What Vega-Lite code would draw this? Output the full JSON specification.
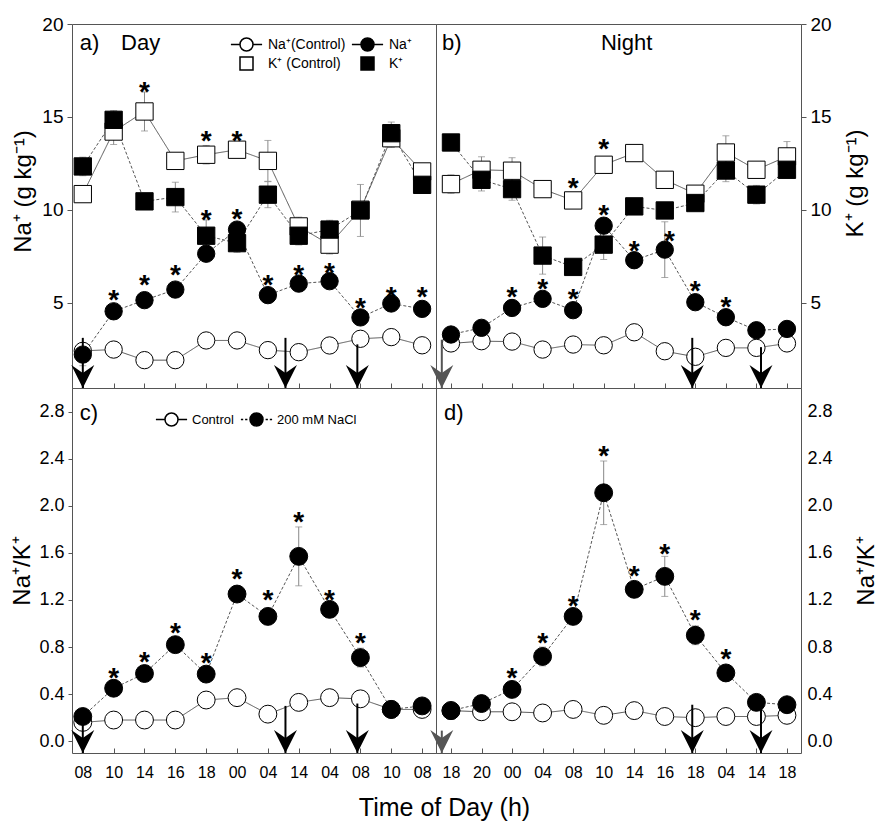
{
"$schema": "https://vega.github.io/schema/vega-lite/v6.json",
"background": "white",
"padding": {"left": 10, "right": 2, "top": 14, "bottom": 5},
"title": {"text": "Time of Day (h)", "orient": "bottom", "anchor": "middle", "fontSize": 25, "fontWeight": "normal", "font": "Liberation Sans", "color": "black", "offset": 15},
"columns": 2,
"spacing": 0,
"bounds": "flush",
"config": {
  "view": {"stroke": "#555", "strokeWidth": 1},
  "axis": {"labelFont": "Liberation Sans", "titleFont": "Liberation Sans", "grid": false, "domain": false, "labelColor": "black", "titleColor": "black", "tickColor": "#555", "titleFontWeight": "normal"},
  "legend": {"labelFont": "Liberation Sans", "labelColor": "black"}
},
"datasets": {
  "a": [
    {"i":0,"t":"08","ion":"K","trt":"control","v":10.84,"e":0.3},
    {"i":1,"t":"10","ion":"K","trt":"control","v":14.21,"e":0.7},
    {"i":2,"t":"14","ion":"K","trt":"control","v":15.29,"e":1.05},
    {"i":3,"t":"16","ion":"K","trt":"control","v":12.63,"e":0.3},
    {"i":4,"t":"18","ion":"K","trt":"control","v":12.96,"e":0.5},
    {"i":5,"t":"00","ion":"K","trt":"control","v":13.23,"e":0.3},
    {"i":6,"t":"04","ion":"K","trt":"control","v":12.63,"e":1.1},
    {"i":7,"t":"14","ion":"K","trt":"control","v":9.1,"e":0.5},
    {"i":8,"t":"04","ion":"K","trt":"control","v":8.12,"e":0.5},
    {"i":9,"t":"08","ion":"K","trt":"control","v":10.0,"e":0.3},
    {"i":10,"t":"10","ion":"K","trt":"control","v":13.85,"e":0.5},
    {"i":11,"t":"08","ion":"K","trt":"control","v":12.06,"e":0.3},
    {"i":0,"t":"08","ion":"Na","trt":"control","v":2.4,"e":0.3},
    {"i":1,"t":"10","ion":"Na","trt":"control","v":2.47,"e":0.4},
    {"i":2,"t":"14","ion":"Na","trt":"control","v":1.9,"e":0.3},
    {"i":3,"t":"16","ion":"Na","trt":"control","v":1.9,"e":0.2},
    {"i":4,"t":"18","ion":"Na","trt":"control","v":2.96,"e":0.2},
    {"i":5,"t":"00","ion":"Na","trt":"control","v":2.96,"e":0.2},
    {"i":6,"t":"04","ion":"Na","trt":"control","v":2.44,"e":0.3},
    {"i":7,"t":"14","ion":"Na","trt":"control","v":2.33,"e":0.4},
    {"i":8,"t":"04","ion":"Na","trt":"control","v":2.69,"e":0.4},
    {"i":9,"t":"08","ion":"Na","trt":"control","v":3.05,"e":0.3},
    {"i":10,"t":"10","ion":"Na","trt":"control","v":3.14,"e":0.2},
    {"i":11,"t":"08","ion":"Na","trt":"control","v":2.7,"e":0.2},
    {"i":0,"t":"08","ion":"K","trt":"salt","v":12.33,"e":0.5},
    {"i":1,"t":"10","ion":"K","trt":"salt","v":14.84,"e":0.5},
    {"i":2,"t":"14","ion":"K","trt":"salt","v":10.45,"e":0.3},
    {"i":3,"t":"16","ion":"K","trt":"salt","v":10.68,"e":0.8},
    {"i":4,"t":"18","ion":"K","trt":"salt","v":8.6,"e":0.85},
    {"i":5,"t":"00","ion":"K","trt":"salt","v":8.2,"e":0.5},
    {"i":6,"t":"04","ion":"K","trt":"salt","v":10.81,"e":0.7},
    {"i":7,"t":"14","ion":"K","trt":"salt","v":8.6,"e":0.5},
    {"i":8,"t":"04","ion":"K","trt":"salt","v":8.93,"e":0.5},
    {"i":9,"t":"08","ion":"K","trt":"salt","v":9.96,"e":1.4},
    {"i":10,"t":"10","ion":"K","trt":"salt","v":14.12,"e":0.6},
    {"i":11,"t":"08","ion":"K","trt":"salt","v":11.34,"e":0.3},
    {"i":0,"t":"08","ion":"Na","trt":"salt","v":2.2,"e":0.6},
    {"i":1,"t":"10","ion":"Na","trt":"salt","v":4.53,"e":0.2},
    {"i":2,"t":"14","ion":"Na","trt":"salt","v":5.13,"e":0.2},
    {"i":3,"t":"16","ion":"Na","trt":"salt","v":5.7,"e":0.2},
    {"i":4,"t":"18","ion":"Na","trt":"salt","v":7.63,"e":0.4},
    {"i":5,"t":"00","ion":"Na","trt":"salt","v":8.93,"e":0.3},
    {"i":6,"t":"04","ion":"Na","trt":"salt","v":5.4,"e":0.2},
    {"i":7,"t":"14","ion":"Na","trt":"salt","v":6.02,"e":0.3},
    {"i":8,"t":"04","ion":"Na","trt":"salt","v":6.15,"e":0.2},
    {"i":9,"t":"08","ion":"Na","trt":"salt","v":4.2,"e":0.2},
    {"i":10,"t":"10","ion":"Na","trt":"salt","v":4.95,"e":0.2},
    {"i":11,"t":"08","ion":"Na","trt":"salt","v":4.66,"e":0.2}
  ],
  "b": [
    {"i":0,"t":"18","ion":"K","trt":"control","v":11.38,"e":0.5},
    {"i":1,"t":"20","ion":"K","trt":"control","v":12.15,"e":0.7},
    {"i":2,"t":"00","ion":"K","trt":"control","v":12.1,"e":0.7},
    {"i":3,"t":"04","ion":"K","trt":"control","v":11.11,"e":0.3},
    {"i":4,"t":"08","ion":"K","trt":"control","v":10.5,"e":0.2},
    {"i":5,"t":"10","ion":"K","trt":"control","v":12.42,"e":0.4},
    {"i":6,"t":"14","ion":"K","trt":"control","v":13.05,"e":0.2},
    {"i":7,"t":"16","ion":"K","trt":"control","v":11.61,"e":0.3},
    {"i":8,"t":"18","ion":"K","trt":"control","v":10.86,"e":0.3},
    {"i":9,"t":"04","ion":"K","trt":"control","v":13.08,"e":0.9},
    {"i":10,"t":"14","ion":"K","trt":"control","v":12.15,"e":0.3},
    {"i":11,"t":"18","ion":"K","trt":"control","v":12.87,"e":0.8},
    {"i":0,"t":"18","ion":"Na","trt":"control","v":2.8,"e":0.3},
    {"i":1,"t":"20","ion":"Na","trt":"control","v":2.92,"e":0.3},
    {"i":2,"t":"00","ion":"Na","trt":"control","v":2.9,"e":0.3},
    {"i":3,"t":"04","ion":"Na","trt":"control","v":2.47,"e":0.3},
    {"i":4,"t":"08","ion":"Na","trt":"control","v":2.74,"e":0.3},
    {"i":5,"t":"10","ion":"Na","trt":"control","v":2.7,"e":0.2},
    {"i":6,"t":"14","ion":"Na","trt":"control","v":3.4,"e":0.2},
    {"i":7,"t":"16","ion":"Na","trt":"control","v":2.38,"e":0.2},
    {"i":8,"t":"18","ion":"Na","trt":"control","v":2.08,"e":0.3},
    {"i":9,"t":"04","ion":"Na","trt":"control","v":2.56,"e":0.3},
    {"i":10,"t":"14","ion":"Na","trt":"control","v":2.56,"e":0.3},
    {"i":11,"t":"18","ion":"Na","trt":"control","v":2.8,"e":0.3},
    {"i":0,"t":"18","ion":"K","trt":"salt","v":13.62,"e":0.3},
    {"i":1,"t":"20","ion":"K","trt":"salt","v":11.61,"e":0.6},
    {"i":2,"t":"00","ion":"K","trt":"salt","v":11.11,"e":0.6},
    {"i":3,"t":"04","ion":"K","trt":"salt","v":7.53,"e":1.0},
    {"i":4,"t":"08","ion":"K","trt":"salt","v":6.92,"e":0.2},
    {"i":5,"t":"10","ion":"K","trt":"salt","v":8.12,"e":0.8},
    {"i":6,"t":"14","ion":"K","trt":"salt","v":10.18,"e":0.3},
    {"i":7,"t":"16","ion":"K","trt":"salt","v":9.96,"e":0.4},
    {"i":8,"t":"18","ion":"K","trt":"salt","v":10.36,"e":0.3},
    {"i":9,"t":"04","ion":"K","trt":"salt","v":12.11,"e":0.6},
    {"i":10,"t":"14","ion":"K","trt":"salt","v":10.81,"e":0.5},
    {"i":11,"t":"18","ion":"K","trt":"salt","v":12.15,"e":0.3},
    {"i":0,"t":"18","ion":"Na","trt":"salt","v":3.28,"e":0.2},
    {"i":1,"t":"20","ion":"Na","trt":"salt","v":3.64,"e":0.2},
    {"i":2,"t":"00","ion":"Na","trt":"salt","v":4.71,"e":0.2},
    {"i":3,"t":"04","ion":"Na","trt":"salt","v":5.2,"e":0.2},
    {"i":4,"t":"08","ion":"Na","trt":"salt","v":4.59,"e":0.2},
    {"i":5,"t":"10","ion":"Na","trt":"salt","v":9.14,"e":0.2},
    {"i":6,"t":"14","ion":"Na","trt":"salt","v":7.28,"e":0.2},
    {"i":7,"t":"16","ion":"Na","trt":"salt","v":7.85,"e":1.5},
    {"i":8,"t":"18","ion":"Na","trt":"salt","v":5.02,"e":0.2},
    {"i":9,"t":"04","ion":"Na","trt":"salt","v":4.21,"e":0.2},
    {"i":10,"t":"14","ion":"Na","trt":"salt","v":3.51,"e":0.2},
    {"i":11,"t":"18","ion":"Na","trt":"salt","v":3.58,"e":0.2}
  ],
  "c": [
    {"i":0,"t":"08","trt":"control","v":0.16,"e":0.04},
    {"i":1,"t":"10","trt":"control","v":0.18,"e":0.04},
    {"i":2,"t":"14","trt":"control","v":0.18,"e":0.04},
    {"i":3,"t":"16","trt":"control","v":0.18,"e":0.04},
    {"i":4,"t":"18","trt":"control","v":0.35,"e":0.04},
    {"i":5,"t":"00","trt":"control","v":0.37,"e":0.04},
    {"i":6,"t":"04","trt":"control","v":0.23,"e":0.05},
    {"i":7,"t":"14","trt":"control","v":0.33,"e":0.04},
    {"i":8,"t":"04","trt":"control","v":0.37,"e":0.05},
    {"i":9,"t":"08","trt":"control","v":0.36,"e":0.05},
    {"i":10,"t":"10","trt":"control","v":0.27,"e":0.03},
    {"i":11,"t":"08","trt":"control","v":0.27,"e":0.03},
    {"i":0,"t":"08","trt":"salt","v":0.21,"e":0.05},
    {"i":1,"t":"10","trt":"salt","v":0.45,"e":0.03},
    {"i":2,"t":"14","trt":"salt","v":0.575,"e":0.03},
    {"i":3,"t":"16","trt":"salt","v":0.82,"e":0.04},
    {"i":4,"t":"18","trt":"salt","v":0.57,"e":0.04},
    {"i":5,"t":"00","trt":"salt","v":1.25,"e":0.05},
    {"i":6,"t":"04","trt":"salt","v":1.06,"e":0.07},
    {"i":7,"t":"14","trt":"salt","v":1.57,"e":0.25},
    {"i":8,"t":"04","trt":"salt","v":1.12,"e":0.05},
    {"i":9,"t":"08","trt":"salt","v":0.71,"e":0.08},
    {"i":10,"t":"10","trt":"salt","v":0.27,"e":0.03},
    {"i":11,"t":"08","trt":"salt","v":0.3,"e":0.03}
  ],
  "d": [
    {"i":0,"t":"18","trt":"control","v":0.26,"e":0.04},
    {"i":1,"t":"20","trt":"control","v":0.25,"e":0.04},
    {"i":2,"t":"00","trt":"control","v":0.25,"e":0.04},
    {"i":3,"t":"04","trt":"control","v":0.24,"e":0.04},
    {"i":4,"t":"08","trt":"control","v":0.27,"e":0.04},
    {"i":5,"t":"10","trt":"control","v":0.22,"e":0.03},
    {"i":6,"t":"14","trt":"control","v":0.26,"e":0.03},
    {"i":7,"t":"16","trt":"control","v":0.21,"e":0.04},
    {"i":8,"t":"18","trt":"control","v":0.2,"e":0.04},
    {"i":9,"t":"04","trt":"control","v":0.21,"e":0.04},
    {"i":10,"t":"14","trt":"control","v":0.21,"e":0.03},
    {"i":11,"t":"18","trt":"control","v":0.22,"e":0.04},
    {"i":0,"t":"18","trt":"salt","v":0.26,"e":0.03},
    {"i":1,"t":"20","trt":"salt","v":0.32,"e":0.03},
    {"i":2,"t":"00","trt":"salt","v":0.44,"e":0.03},
    {"i":3,"t":"04","trt":"salt","v":0.72,"e":0.08},
    {"i":4,"t":"08","trt":"salt","v":1.06,"e":0.05},
    {"i":5,"t":"10","trt":"salt","v":2.11,"e":0.27},
    {"i":6,"t":"14","trt":"salt","v":1.29,"e":0.05},
    {"i":7,"t":"16","trt":"salt","v":1.4,"e":0.17},
    {"i":8,"t":"18","trt":"salt","v":0.9,"e":0.08},
    {"i":9,"t":"04","trt":"salt","v":0.58,"e":0.04},
    {"i":10,"t":"14","trt":"salt","v":0.33,"e":0.03},
    {"i":11,"t":"18","trt":"salt","v":0.31,"e":0.03}
  ],
  "sa": [{"i":1,"v":5.52},{"i":2,"v":6.33},{"i":3,"v":6.87},{"i":4,"v":9.8},{"i":4,"v":14.1},{"i":5,"v":14.1},{"i":5,"v":9.9},{"i":6,"v":6.3},{"i":7,"v":6.88},{"i":8,"v":6.97},{"i":9,"v":5.07},{"i":10,"v":5.7},{"i":11,"v":5.7},{"i":2,"v":16.72}],
  "sb": [{"i":2,"v":5.7},{"i":3,"v":6.09},{"i":4,"v":5.55},{"i":4,"v":11.52},{"i":5,"v":13.67},{"i":5,"v":10.09},{"i":6,"v":8.17},{"i":7.15,"v":8.69},{"i":8,"v":6.02},{"i":9,"v":5.13}],
  "sc": [{"i":1,"v":0.6},{"i":2,"v":0.73},{"i":3,"v":0.98},{"i":4,"v":0.72},{"i":5,"v":1.44},{"i":6,"v":1.26},{"i":7,"v":1.92},{"i":8,"v":1.26},{"i":9,"v":0.89}],
  "sd": [{"i":2,"v":0.6},{"i":3,"v":0.89},{"i":4,"v":1.21},{"i":5,"v":2.48},{"i":6,"v":1.46},{"i":7,"v":1.65},{"i":8,"v":1.09},{"i":9,"v":0.76}],
  "shL": [{"i":3.88,"i2":6.31},{"i":7.83,"i2":8.22}],
  "shR": [{"i":-0.29,"i2":3.47},{"i":7.89,"i2":9.17},{"i":10.83,"i2":11.23}],
  "ra": [{"i":0,"v":3.1},{"i":6.57,"v":3.1},{"i":8.9,"v":2.75}],
  "rb": [{"i":-0.3,"v":3.0},{"i":7.9,"v":3.1},{"i":10.15,"v":2.6}],
  "rc": [{"i":0,"v":0.25},{"i":6.57,"v":0.3},{"i":8.9,"v":0.32}],
  "rd": [{"i":-0.3,"v":0.09},{"i":7.9,"v":0.31},{"i":10.15,"v":0.29}]
},
"concat": [
{
  "width": 364, "height": 364,
  "data": {"name": "a"},
  "encoding": {
    "x": {"field": "i", "type": "quantitative", "scale": {"domain": [-0.35, 11.45], "nice": false, "zero": false},
          "axis": {"values": [0,1,2,3,4,5,6,7,8,9,10,11], "labels": false, "tickSize": -5, "title": null}},
    "y": {"field": "v", "type": "quantitative", "scale": {"domain": [0.4, 20], "nice": false, "zero": false},
          "axis": {"orient": "left", "values": [5,10,15,20], "title": "Na⁺ (g kg⁻¹)", "titleY": 167, "titleFontSize": 24, "titlePadding": 6, "labelFontSize": 19, "labelPadding": 4, "tickSize": 5}}
  },
  "layer": [
    {"data": {"name": "shL"}, "mark": {"type": "rect", "color": "#e4e4e4"}, "encoding": {"x2": {"field": "i2"}, "y": {"datum": 0.4}, "y2": {"datum": 20}}},
    {"mark": {"type": "errorbar", "color": "#888", "ticks": {"size": 7}}, "encoding": {"yError": {"field": "e"}}},
    {"mark": {"type": "line", "color": "#555", "strokeWidth": 1}, "encoding": {"detail": {"field": "ion"}, "strokeDash": {"field": "trt", "type": "nominal", "scale": {"domain": ["control","salt"], "range": [[1,0],[3,2]]}, "legend": null}}},
    {"mark": {"type": "point", "filled": true, "stroke": "black", "strokeWidth": 1, "size": 300, "opacity": 1},
     "encoding": {"shape": {"field": "ion", "type": "nominal", "scale": {"domain": ["Na","K"], "range": ["circle","square"]}, "legend": null},
                  "fill": {"field": "trt", "type": "nominal", "scale": {"domain": ["control","salt"], "range": ["white","black"]}, "legend": null}}},
    {"data": {"name": "ra"}, "mark": {"type": "rule", "color": "black", "strokeWidth": 2}, "encoding": {"y2": {"datum": 0.4}}},
    {"data": {"name": "ra"}, "mark": {"type": "point", "shape": "M0,0L-1,-2L0,-1.3L1,-2Z", "size": 529, "filled": true, "opacity": 1, "color": "black"}, "encoding": {"y": {"datum": 0.4}}},
    {"data": {"name": "sa"}, "mark": {"type": "text", "text": "*", "font": "Liberation Sans", "fontSize": 28, "fontWeight": "bold", "baseline": "alphabetic", "dy": 16, "color": "black"}},
    {"mark": {"type": "text", "font": "Liberation Sans", "fontSize": 22, "align": "left", "baseline": "middle", "color": "black"}, "encoding": {"x": {"datum": -0.1}, "y": {"datum": 18.98}, "text": {"condition": {"test": "datum.i == 0 && datum.ion == 'K' && datum.trt == 'control'", "value": "a)"}, "value": ""}}},
    {"mark": {"type": "text", "font": "Liberation Sans", "fontSize": 22, "align": "left", "baseline": "middle", "color": "black"}, "encoding": {"x": {"datum": 1.24}, "y": {"datum": 18.98}, "text": {"condition": {"test": "datum.i == 0 && datum.ion == 'K' && datum.trt == 'control'", "value": "Day"}, "value": ""}}},
    {"data": {"values": []}, "mark": {"type": "point", "filled": true, "stroke": "black", "strokeWidth": 1, "opacity": 1},
     "encoding": {
       "shape": {"field": "s", "type": "nominal", "scale": {"domain": ["Na⁺(Control)","Na⁺","K⁺ (Control)","K⁺"], "range": ["M-2.4,0H-1M1,0H2.4M-1,0A1,1,0,1,0,1,0A1,1,0,1,0,-1,0Z","M-2.4,0H-1M1,0H2.4M-1,0A1,1,0,1,0,1,0A1,1,0,1,0,-1,0Z","M-1,-1H1V1H-1Z","M-1,-1H1V1H-1Z"]},
                 "legend": {"title": null, "orient": "none", "legendX": 167, "legendY": 13, "direction": "horizontal", "columns": 2, "labelFontSize": 14, "symbolSize": 169, "labelOffset": 14, "columnPadding": 2, "rowPadding": 0, "padding": 0,
                            "encode": {"symbols": {"update": {"stroke": {"value": "black"}, "strokeWidth": {"value": 1}}}}}},
       "fill": {"field": "s", "type": "nominal", "scale": {"domain": ["Na⁺(Control)","Na⁺","K⁺ (Control)","K⁺"], "range": ["white","black","white","black"]},
                 "legend": {"title": null, "orient": "none", "legendX": 167, "legendY": 13, "direction": "horizontal", "columns": 2, "labelFontSize": 14, "symbolSize": 169, "labelOffset": 14, "columnPadding": 2, "rowPadding": 0, "padding": 0,
                            "encode": {"symbols": {"update": {"stroke": {"value": "black"}, "strokeWidth": {"value": 1}}}}}}
     }}
  ],
  "resolve": {"scale": {"shape": "independent", "fill": "independent"}}
},
{
  "width": 365, "height": 364,
  "data": {"name": "b"},
  "encoding": {
    "x": {"field": "i", "type": "quantitative", "scale": {"domain": [-0.49, 11.46], "nice": false, "zero": false},
          "axis": {"values": [0,1,2,3,4,5,6,7,8,9,10,11], "labels": false, "tickSize": -5, "title": null}},
    "y": {"field": "v", "type": "quantitative", "scale": {"domain": [0.4, 20], "nice": false, "zero": false},
          "axis": {"orient": "right", "values": [5,10,15,20], "title": "K⁺ (g kg⁻¹)", "titleY": 159, "titleAngle": 270, "titleFontSize": 24, "titlePadding": 36, "labelFontSize": 19, "labelPadding": 4, "tickSize": 5}}
  },
  "layer": [
    {"data": {"name": "shR"}, "mark": {"type": "rect", "color": "#e4e4e4"}, "encoding": {"x2": {"field": "i2"}, "y": {"datum": 0.4}, "y2": {"datum": 20}}},
    {"mark": {"type": "errorbar", "color": "#888", "ticks": {"size": 7}}, "encoding": {"yError": {"field": "e"}}},
    {"mark": {"type": "line", "color": "#555", "strokeWidth": 1}, "encoding": {"detail": {"field": "ion"}, "strokeDash": {"field": "trt", "type": "nominal", "scale": {"domain": ["control","salt"], "range": [[1,0],[3,2]]}, "legend": null}}},
    {"mark": {"type": "point", "filled": true, "stroke": "black", "strokeWidth": 1, "size": 300, "opacity": 1},
     "encoding": {"shape": {"field": "ion", "type": "nominal", "scale": {"domain": ["Na","K"], "range": ["circle","square"]}, "legend": null},
                  "fill": {"field": "trt", "type": "nominal", "scale": {"domain": ["control","salt"], "range": ["white","black"]}, "legend": null}}},
    {"data": {"name": "rb"}, "mark": {"type": "rule", "strokeWidth": 2}, "encoding": {"y2": {"datum": 0.4}, "color": {"condition": {"test": "datum.i < 0", "value": "#555"}, "value": "black"}}},
    {"data": {"name": "rb"}, "mark": {"type": "point", "shape": "M0,0L-1,-2L0,-1.3L1,-2Z", "size": 529, "filled": true, "opacity": 1}, "encoding": {"y": {"datum": 0.4}, "color": {"condition": {"test": "datum.i < 0", "value": "#555"}, "value": "black"}}},
    {"data": {"name": "sb"}, "mark": {"type": "text", "text": "*", "font": "Liberation Sans", "fontSize": 28, "fontWeight": "bold", "baseline": "alphabetic", "dy": 16, "color": "black"}},
    {"mark": {"type": "text", "font": "Liberation Sans", "fontSize": 22, "align": "left", "baseline": "middle", "color": "black"}, "encoding": {"x": {"datum": -0.29}, "y": {"datum": 18.98}, "text": {"condition": {"test": "datum.i == 0 && datum.ion == 'K' && datum.trt == 'control'", "value": "b)"}, "value": ""}}},
    {"mark": {"type": "text", "font": "Liberation Sans", "fontSize": 22, "align": "left", "baseline": "middle", "color": "black"}, "encoding": {"x": {"datum": 4.91}, "y": {"datum": 18.98}, "text": {"condition": {"test": "datum.i == 0 && datum.ion == 'K' && datum.trt == 'control'", "value": "Night"}, "value": ""}}}
  ]
},
{
  "width": 364, "height": 365,
  "data": {"name": "c"},
  "encoding": {
    "x": {"field": "i", "type": "quantitative", "scale": {"domain": [-0.35, 11.45], "nice": false, "zero": false},
          "axis": {"values": [0,1,2,3,4,5,6,7,8,9,10,11], "labelExpr": "['08','10','14','16','18','00','04','14','04','08','10','08'][datum.value]", "labelFontSize": 16, "labelPadding": 16, "tickSize": -5, "title": null}},
    "y": {"field": "v", "type": "quantitative", "scale": {"domain": [-0.1, 3.0], "nice": false, "zero": false},
          "axis": {"orient": "left", "values": [0,0.4,0.8,1.2,1.6,2,2.4,2.8], "format": ".1f", "title": "Na⁺/K⁺", "titleFontSize": 24, "titlePadding": 4, "labelFontSize": 18, "labelPadding": 4, "tickSize": 4}}
  },
  "layer": [
    {"data": {"name": "shL"}, "mark": {"type": "rect", "color": "#e4e4e4"}, "encoding": {"x2": {"field": "i2"}, "y": {"datum": -0.1}, "y2": {"datum": 3.0}}},
    {"mark": {"type": "errorbar", "color": "#888", "ticks": {"size": 7}}, "encoding": {"yError": {"field": "e"}}},
    {"mark": {"type": "line", "color": "#555", "strokeWidth": 1}, "encoding": {"strokeDash": {"field": "trt", "type": "nominal", "scale": {"domain": ["control","salt"], "range": [[1,0],[3,2]]}, "legend": null}}},
    {"mark": {"type": "point", "shape": "circle", "filled": true, "stroke": "black", "strokeWidth": 1, "size": 320, "opacity": 1},
     "encoding": {"fill": {"field": "trt", "type": "nominal", "scale": {"domain": ["control","salt"], "range": ["white","black"]}, "legend": null}}},
    {"data": {"name": "rc"}, "mark": {"type": "rule", "color": "black", "strokeWidth": 2}, "encoding": {"y2": {"datum": -0.1}}},
    {"data": {"name": "rc"}, "mark": {"type": "point", "shape": "M0,0L-1,-2L0,-1.3L1,-2Z", "size": 529, "filled": true, "opacity": 1, "color": "black"}, "encoding": {"y": {"datum": -0.1}}},
    {"data": {"name": "sc"}, "mark": {"type": "text", "text": "*", "font": "Liberation Sans", "fontSize": 28, "fontWeight": "bold", "baseline": "alphabetic", "dy": 16, "color": "black"}},
    {"mark": {"type": "text", "font": "Liberation Sans", "fontSize": 22, "align": "left", "baseline": "middle", "color": "black"}, "encoding": {"x": {"datum": -0.1}, "y": {"datum": 2.79}, "text": {"condition": {"test": "datum.i == 0 && datum.trt == 'control'", "value": "c)"}, "value": ""}}},
    {"data": {"values": []}, "mark": {"type": "point", "filled": true, "stroke": "black", "strokeWidth": 1, "opacity": 1},
     "encoding": {
       "shape": {"field": "s", "type": "nominal", "scale": {"domain": ["Control","200 mM NaCl"], "range": ["M-2.4,0H-1M1,0H2.4M-1,0A1,1,0,1,0,1,0A1,1,0,1,0,-1,0Z","M-2.4,0H-2.05M-1.75,0H-1.4M1.4,0H1.75M2.05,0H2.4M-1,0A1,1,0,1,0,1,0A1,1,0,1,0,-1,0Z"]},
                 "legend": {"title": null, "orient": "none", "legendX": 92, "legendY": 24, "direction": "horizontal", "labelFontSize": 13, "symbolSize": 169, "labelOffset": 13, "columnPadding": 3, "padding": 0,
                            "encode": {"symbols": {"update": {"stroke": {"value": "black"}, "strokeWidth": {"value": 1}}}}}},
       "fill": {"field": "s", "type": "nominal", "scale": {"domain": ["Control","200 mM NaCl"], "range": ["white","black"]},
                 "legend": {"title": null, "orient": "none", "legendX": 92, "legendY": 24, "direction": "horizontal", "labelFontSize": 13, "symbolSize": 169, "labelOffset": 13, "columnPadding": 3, "padding": 0,
                            "encode": {"symbols": {"update": {"stroke": {"value": "black"}, "strokeWidth": {"value": 1}}}}}}
     }}
  ],
  "resolve": {"scale": {"shape": "independent", "fill": "independent"}}
},
{
  "width": 365, "height": 365,
  "data": {"name": "d"},
  "encoding": {
    "x": {"field": "i", "type": "quantitative", "scale": {"domain": [-0.49, 11.46], "nice": false, "zero": false},
          "axis": {"values": [0,1,2,3,4,5,6,7,8,9,10,11], "labelExpr": "['18','20','00','04','08','10','14','16','18','04','14','18'][datum.value]", "labelFontSize": 16, "labelPadding": 16, "tickSize": -5, "title": null}},
    "y": {"field": "v", "type": "quantitative", "scale": {"domain": [-0.1, 3.0], "nice": false, "zero": false},
          "axis": {"orient": "right", "values": [0,0.4,0.8,1.2,1.6,2,2.4,2.8], "format": ".1f", "title": "Na⁺/K⁺", "titleAngle": 270, "titleFontSize": 24, "titlePadding": 46, "labelFontSize": 18, "labelPadding": 6, "ticks": false}}
  },
  "layer": [
    {"data": {"name": "shR"}, "mark": {"type": "rect", "color": "#e4e4e4"}, "encoding": {"x2": {"field": "i2"}, "y": {"datum": -0.1}, "y2": {"datum": 3.0}}},
    {"mark": {"type": "errorbar", "color": "#888", "ticks": {"size": 7}}, "encoding": {"yError": {"field": "e"}}},
    {"mark": {"type": "line", "color": "#555", "strokeWidth": 1}, "encoding": {"strokeDash": {"field": "trt", "type": "nominal", "scale": {"domain": ["control","salt"], "range": [[1,0],[3,2]]}, "legend": null}}},
    {"mark": {"type": "point", "shape": "circle", "filled": true, "stroke": "black", "strokeWidth": 1, "size": 320, "opacity": 1},
     "encoding": {"fill": {"field": "trt", "type": "nominal", "scale": {"domain": ["control","salt"], "range": ["white","black"]}, "legend": null}}},
    {"data": {"name": "rd"}, "mark": {"type": "rule", "strokeWidth": 2}, "encoding": {"y2": {"datum": -0.1}, "color": {"condition": {"test": "datum.i < 0", "value": "#555"}, "value": "black"}}},
    {"data": {"name": "rd"}, "mark": {"type": "point", "shape": "M0,0L-1,-2L0,-1.3L1,-2Z", "size": 529, "filled": true, "opacity": 1}, "encoding": {"y": {"datum": -0.1}, "color": {"condition": {"test": "datum.i < 0", "value": "#555"}, "value": "black"}}},
    {"data": {"name": "sd"}, "mark": {"type": "text", "text": "*", "font": "Liberation Sans", "fontSize": 28, "fontWeight": "bold", "baseline": "alphabetic", "dy": 16, "color": "black"}},
    {"mark": {"type": "text", "font": "Liberation Sans", "fontSize": 22, "align": "left", "baseline": "middle", "color": "black"}, "encoding": {"x": {"datum": -0.23}, "y": {"datum": 2.79}, "text": {"condition": {"test": "datum.i == 0 && datum.trt == 'control'", "value": "d)"}, "value": ""}}}
  ]
}
]
}
